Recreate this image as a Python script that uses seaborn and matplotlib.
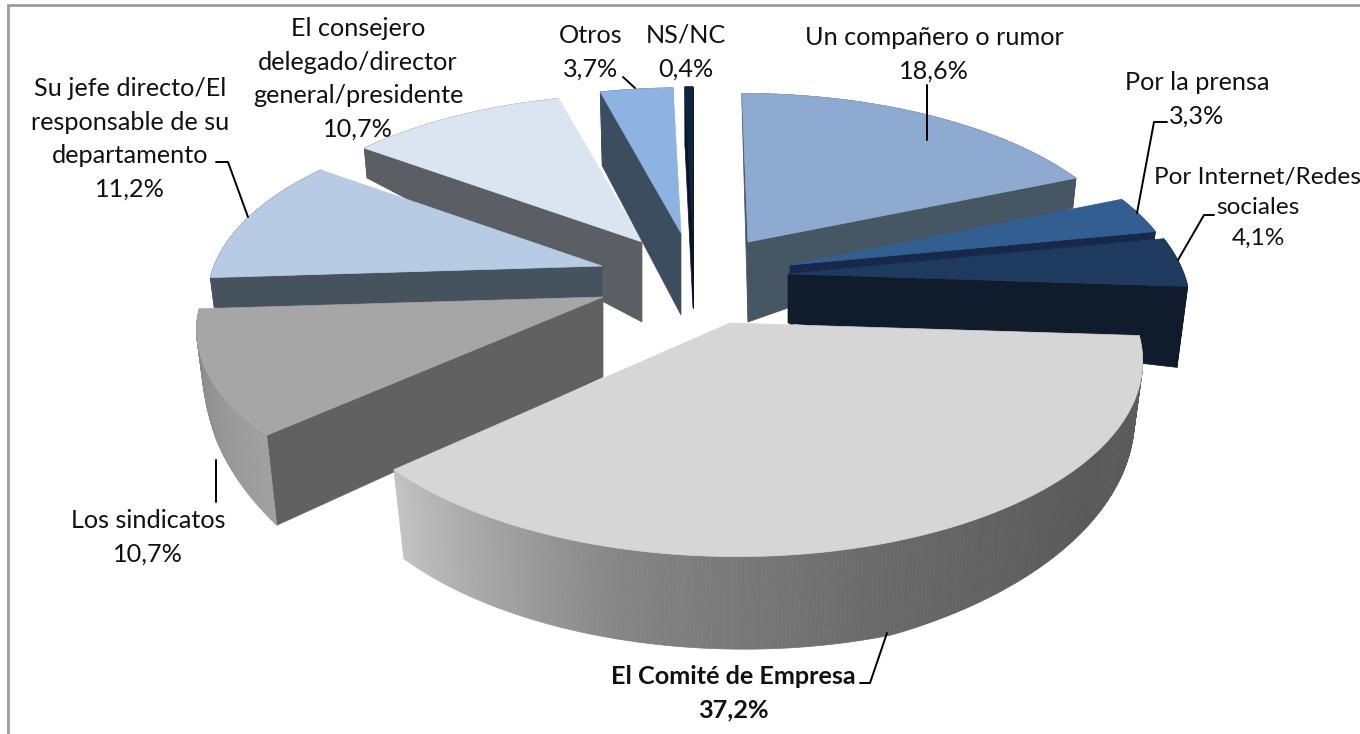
import numpy as np
import seaborn as sns
import matplotlib.pyplot as plt
from matplotlib.collections import PolyCollection

categories = ['Un compañero o rumor', 'Por la prensa', 'Por Internet/Redes\nsociales', 'El Comité de Empresa',
              'Los sindicatos', 'Su jefe directo/El\nresponsable de su\ndepartamento',
              'El consejero\ndelegado/director\ngeneral/presidente', 'Otros', 'NS/NC']
values = [18.6, 3.3, 4.1, 37.2, 10.7, 11.2, 10.7, 3.7, 0.4]

top_colors = ['#8eaad1', '#335e92', '#1f3a5f', '#d6d6d6', '#a6a6a6', '#b7cbe4', '#dbe5f1', '#8db3e2', '#0f243e']
wall_colors = ['#475663', '#16294a', '#101b2c', '#555555', '#616161', '#46535f', '#5b5e63', '#3d4d60', '#0a1626']
rim_colors = [('#475663', '#475663'), ('#16294a', '#16294a'), ('#101b2c', '#101b2c'),
              ('#606060', '#585858', '#686868', '#858585', '#c2c2c2'),
              ('#a0a0a0', '#858585'), ('#46535f', '#46535f'), ('#5b5e63', '#5b5e63'), ('#3d4d60', '#3d4d60'),
              ('#0a1626', '#0a1626')]

# where each exploded slice sits, and how it is squashed
vertex_x = [748, 790, 788, 730, 603, 602, 642, 681, 693]
vertex_y = [242, 265, 274, 323, 297, 266, 242, 233, 232]
radius_x = [384, 385, 396, 405, 400, 388, 383, 371, 380]
radius_y = [175, 180, 190, 192, 181, 178, 174, 171, 171]
skew = [0.04, 0, 0, 0.03, 0, 0, 0, 0, 0]
vertex_h = [80, 60, 49, 80, 80, 75, 80, 82, 76]
rim_h = [(14, 30), (12, 14), (55, 81), (55, 94, 89), (90, 66, 25), (30, 30), (30, 30), (74, 74), (60, 60)]
show_start = [True, False, False, False, True, True, True, True, True]
show_end = [True, True, True, False, False, False, False, False, True]
draw_order = [6, 7, 8, 0, 5, 1, 2, 4, 3]
perspective = 0.178

label_x = [934, 1197, 1258, 733, 148, 130, 358, 591, 686]
label_y = [54, 99, 208, 693, 537, 139, 79, 52, 52]
label_size = [18.2, 18.2, 17.6, 18.2, 18.2, 18.2, 18.2, 18.2, 18.2]

leaders = [[(927, 85), (927, 140)],
           [(1167, 122), (1154, 122), (1137, 213)],
           [(1214, 215), (1204, 215), (1178, 260)],
           [(860, 683), (870, 683), (887, 633)],
           [(216, 460), (216, 502)],
           [(216, 162), (228, 162), (248, 217)],
           [(623, 77), (635, 88)]]

sns.set_theme(style='white')
plt.rcParams['font.family'] = ['Lato', 'DejaVu Sans']

fig = plt.figure(figsize=(13.6, 7.34), dpi=100)
ax = fig.add_axes([0, 0, 1, 1])
ax.set_xlim(0, 1360)
ax.set_ylim(734, 0)
ax.axis('off')

# frame runs off the picture on the right and at the bottom
ax.plot([8, 8, 1370], [740, 5, 5], color='#9c9c9c', lw=2, solid_joinstyle='miter', clip_on=False)

ends = np.cumsum(values) / np.sum(values) * 360
starts = ends - np.array(values) / np.sum(values) * 360


def project(i, theta):
    t = np.radians(theta)
    s = 1 / (1 + perspective * np.cos(t))
    dy = -radius_y[i] * np.cos(t) * s
    dx = radius_x[i] * np.sin(t) * s + skew[i] * dy
    return dx, dy


def height(i, theta):
    frac = np.linspace(0, 1, len(rim_h[i]))
    return np.interp((theta - starts[i]) / (ends[i] - starts[i]), frac, rim_h[i])


def top_point(i, theta):
    dx, dy = project(i, theta)
    return vertex_x[i] + dx, vertex_y[i] + dy


def bottom_point(i, theta):
    dx, dy = project(i, theta)
    h = height(i, theta)
    return vertex_x[i] + dx - 0.03 * dx * h / 90, vertex_y[i] + dy + h


for order, i in enumerate(draw_order):
    apex = (vertex_x[i], vertex_y[i])
    apex_low = (vertex_x[i], vertex_y[i] + vertex_h[i])

    for flag, theta in ((show_start[i], starts[i]), (show_end[i], ends[i])):
        if flag:
            ax.fill(*zip(apex, top_point(i, theta), bottom_point(i, theta), apex_low),
                    color=wall_colors[i], lw=0.5, zorder=2 + order * 3)

    thetas = np.linspace(starts[i], ends[i], max(int(ends[i] - starts[i]) * 2, 4))
    quads = []
    for a, b in zip(thetas[:-1], thetas[1:]):
        quads.append([top_point(i, a), top_point(i, b), bottom_point(i, b), bottom_point(i, a)])
    shades = sns.blend_palette(rim_colors[i], len(quads))
    ax.add_collection(PolyCollection(quads, facecolors=shades, edgecolors=shades, linewidths=0.5,
                                     zorder=3 + order * 3))

    face = [apex] + [top_point(i, t) for t in thetas]
    ax.fill(*zip(*face), color=top_colors[i], lw=0.5, zorder=4 + order * 3)

for pts in leaders:
    ax.plot(*zip(*pts), color='black', lw=1.4, zorder=50)

for i, name in enumerate(categories):
    pct = f'{values[i]:.1f}%'.replace('.', ',')
    ax.text(label_x[i], label_y[i], name + '\n' + pct, ha='center', va='center', ma='center',
            fontsize=label_size[i], linespacing=1.55, color='#111111', zorder=60,
            fontweight='bold' if name == 'El Comité de Empresa' else 'normal')

plt.savefig('out.png', dpi=100)
